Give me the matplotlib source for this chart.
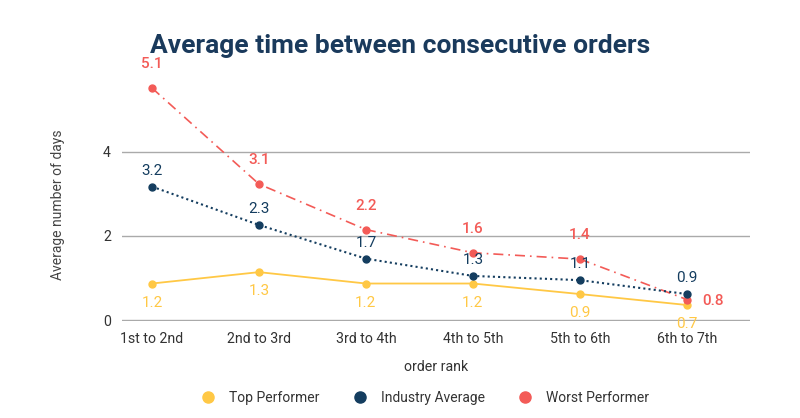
import numpy as np
import matplotlib.pyplot as plt
from matplotlib.lines import Line2D

plt.rcParams['font.family'] = ['Roboto', 'DejaVu Sans']

ranks = ['1st to 2nd', '2nd to 3rd', '3rd to 4th', '4th to 5th', '5th to 6th', '6th to 7th']

top = [0.87, 1.14, 0.87, 0.87, 0.62, 0.36]
industry = [3.17, 2.26, 1.46, 1.05, 0.95, 0.62]
worst = [5.51, 3.23, 2.15, 1.60, 1.45, 0.49]

top_labels = ['1.2', '1.3', '1.2', '1.2', '0.9', '0.7']
industry_labels = ['3.2', '2.3', '1.7', '1.3', '1.1', '0.9']
worst_labels = ['5.1', '3.1', '2.2', '1.6', '1.4', '0.8']

c_top = '#FFC845'
c_ind = '#143D5F'
c_worst = '#F35B57'

fig = plt.figure(figsize=(8, 4.18), dpi=100)
ax = fig.add_axes([0.1525, 0.232, 0.785, 0.617])

x = np.arange(len(ranks))
ax.plot(x, top, color=c_top, lw=1.3, ls='-', marker='o', ms=5, zorder=3)
ax.plot(x, industry, color=c_ind, lw=1.5, ls=(0, (1, 1.5)), marker='o', ms=5, zorder=4)
ax.plot(x, worst, color=c_worst, lw=1.2, ls=(0, (6, 3, 1, 3)), marker='o', ms=5, zorder=3)

for i in range(len(ranks)):
    ax.annotate(top_labels[i], (x[i], top[i]), xytext=(0, -19), textcoords='offset pixels',
                ha='center', va='center', color=c_top, fontsize=11)
    ax.annotate(industry_labels[i], (x[i], industry[i]), xytext=(0, 16), textcoords='offset pixels',
                ha='center', va='center', color=c_ind, fontsize=11)
    if i == len(ranks) - 1:
        off = (26, -1)
    else:
        off = (0, 24)
    ax.annotate(worst_labels[i], (x[i], worst[i]), xytext=off, textcoords='offset pixels',
                ha='center', va='center', color=c_worst, fontsize=11, fontweight='medium')

ax.set_xlim(-0.28, 5.59)
ax.set_ylim(-0.02, 6.1)
ax.set_yticks([0, 2, 4])
ax.set_xticks(x)
ax.set_xticklabels(ranks)
ax.grid(axis='y', color='#AAAAAA', lw=1)
ax.set_axisbelow(True)
for s in ax.spines.values():
    s.set_visible(False)
ax.tick_params(length=0, labelsize=10.2, labelcolor='#333333')
ax.tick_params(axis='y', pad=8)
ax.tick_params(axis='x', pad=8)

ax.set_xlabel('order rank', fontsize=10.2, color='#333333', labelpad=10)
ax.set_ylabel('Average number of days', fontsize=10, color='#444444')
ax.yaxis.set_label_coords(-0.09, 0.453)

fig.text(0.5, 0.89, 'Average time between consecutive orders', ha='center', va='center',
         fontsize=19, fontweight='bold', color='#1A3A5C')

handles = [Line2D([], [], ls='none', marker='o', ms=8, color=c) for c in (c_top, c_ind, c_worst)]
fig.legend(handles, ['Top Performer', 'Industry Average', 'Worst Performer'], loc='center',
           bbox_to_anchor=(0.527, 0.047), ncol=3, frameon=False, fontsize=10,
           handletextpad=0.5, columnspacing=1.9, labelcolor='#333333')

fig.savefig('out.png', dpi=100)
